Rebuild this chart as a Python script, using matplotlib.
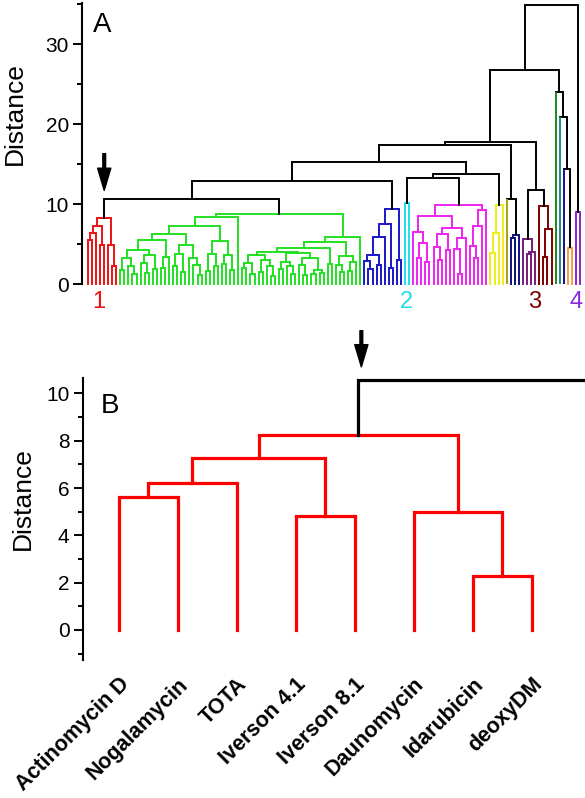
import matplotlib
matplotlib.use("Agg")
import matplotlib.pyplot as plt
from matplotlib.ticker import MultipleLocator

plt.rcParams['font.family'] = ['Liberation Sans', 'DejaVu Sans']

# ---------------- data: panel A ----------------
L = 0  # leaf marker; internal nodes are (distance, left, right)

red_tree = (8.2, (7.2, (6.4, (5.5, L, L), L), (4.9, L, L)), (4.9, L, (2.25, L, L)))
green_tree = (8.75,
              (8.4,
               (7.25,
                (6.3,
                 (5.5,
                  (4.25,
                   (3.2, (1.8, L, L), (2.2, L, (1.2, L, L))),
                   (3.6, (2.6, L, (1.4, L, L)), (1.9, L, L))),
                  (3.4, (2.0, L, L), L)),
                 (4.9,
                  (3.8, (2.2, L, L), (1.5, L, L)),
                  (3.3, L, (2.4, L, (1.1, L, L))))),
                (5.4,
                 (3.7, (1.6, L, L), (2.3, L, L)),
                 (3.6, (2.5, L, L), (1.7, L, L)))),
               L),
              (5.9,
               (5.3,
                (4.45,
                 (4.0,
                  (3.6, (2.6, (2.0, L, L), (1.2, L, L)),
                   (3.0, (1.5, L, L), (2.2, L, (1.0, L, L)))),
                  (3.9, (2.8, (1.9, L, L), (2.2, L, (1.3, L, L))),
                   (3.2, (2.4, L, (1.1, L, L)), (1.8, (1.2, L, L), (1.4, L, L))))),
                 (2.5, L, L)),
                (3.5, (2.4, L, (1.5, L, L)), (2.7, (1.6, L, L), L))),
               L))
blue_tree = (9.4, (7.5, (5.9, (3.6, (2.9, L, (1.9, L, L)), (2.4, L, L)), L), (2.0, L, L)), (3.0, L, L))
cyan_tree = (10.1, L, L)
magenta_tree = (9.9,
                (8.5,
                 (6.5, L, (5.1, (3.2, L, L), (2.8, L, L))),
                 (7.0, (6.3, (4.6, L, (3.0, L, L)), (4.2, L, L)),
                  (5.8, (4.4, L, (1.3, L, L)), L))),
                (9.25, (7.2, (4.7, L, (3.3, L, L)), L), L))
yellow_tree = (9.9, (6.4, (3.9, L, L), L), L)
olive_tree = L
navy_tree = (6.1, (5.75, L, L), L)
dpurple_tree = (5.6, L, (4.0, (3.7, L, L), L))
maroon_tree = (9.75, L, (6.9, (3.4, L, L), L))
dgreen_tree = L
teal_tree = L
navy1_tree = L
orange_tree = (4.5, L, L)
purple_tree = (9.0, L, L)

top_tree = (34.9,
            (26.75,
             (17.8,
              (17.4,
               (15.3,
                (12.9, (10.6, "red", "green"), "blue"),
                (13.75, (13.2, "cyan", "magenta"), "yellow")),
               (10.6, "olive", "navy")),
              (11.75, "dpurple", "maroon")),
             (24.0, "dgreen", (20.9, "teal", (14.4, "navy1", "orange")))),
            "purple")

clusters = {"red": red_tree, "green": green_tree, "blue": blue_tree, "cyan": cyan_tree,
            "magenta": magenta_tree, "yellow": yellow_tree, "olive": olive_tree,
            "navy": navy_tree, "dpurple": dpurple_tree, "maroon": maroon_tree,
            "dgreen": dgreen_tree, "teal": teal_tree, "navy1": navy1_tree,
            "orange": orange_tree, "purple": purple_tree}
colors = {"red": "#ee1111", "green": "#22e022", "blue": "#1818c8", "cyan": "#22dde6",
          "magenta": "#ee22ee", "yellow": "#eeee14", "olive": "#aaa010",
          "navy": "#101080", "dpurple": "#7a1a7a", "maroon": "#800000",
          "dgreen": "#1a8a1a", "teal": "#208888", "navy1": "#101090",
          "orange": "#f0a040", "purple": "#9022d0"}

cluster_labels = ["1", "2", "3", "4"]
cluster_label_colors = ["#ee1111", "#22dde6", "#800000", "#8a2be2"]
cluster_label_x = [2.8, 78.4, 109.9, 120.1]

# ---------------- data: panel B ----------------
drugs = ["Actinomycin D", "Nogalamycin", "TOTA", "Iverson 4.1", "Iverson 8.1",
         "Daunomycin", "Idarubicin", "deoxyDM"]
tree_b = (8.25, (7.25, (6.2, (5.6, L, L), L), (4.8, L, L)), (5.0, L, (2.3, L, L)))
link_b = 10.55


def draw(ax, node, color, counter, lw):
    if isinstance(node, str):
        return draw(ax, clusters[node], colors[node], counter, lw)
    if not isinstance(node, tuple):
        x = counter[0]
        counter[0] += 1
        return x, 0.0, True, color
    h, a, b = node
    xa, ha, la, ca = draw(ax, a, color, counter, lw)
    xb, hb, lb, cb = draw(ax, b, color, counter, lw)
    col_a = ca if la else color
    col_b = cb if lb else color
    kw = dict(lw=lw, clip_on=False, solid_joinstyle='miter')
    if col_a == color and col_b == color:
        ax.plot([xa, xa, xb, xb], [ha, h, h, hb], color=color, **kw)
    else:
        ax.plot([xa, xb], [h, h], color=color, solid_capstyle='projecting', **kw)
        ax.plot([xa, xa], [ha, h], color=col_a, solid_capstyle='butt', **kw)
        ax.plot([xb, xb], [hb, h], color=col_b, solid_capstyle='butt', **kw)
    return (xa + xb) / 2.0, h, False, color


def centre(node, counter):
    if not isinstance(node, tuple):
        x = counter[0]
        counter[0] += 1
        return x
    return (centre(node[1], counter) + centre(node[2], counter)) / 2.0


fig = plt.figure(figsize=(5.85, 7.98), dpi=100)
W, H = 585.0, 798.0

# ---------------- panel A ----------------
axA = fig.add_axes([82 / W, 1 - 284 / H, (W - 82) / W, (284 - 3.3) / H])
counter = [0]
draw(axA, top_tree, "black", counter, 1.4)
n = counter[0]
sp = (580 - 87.7) / (n - 1)
axA.set_xlim(-(87.7 - 82) / sp, (n - 1) + (W - 580) / sp)
axA.set_ylim(0, 35.1)
for s in ["top", "right", "bottom"]:
    axA.spines[s].set_visible(False)
axA.spines["left"].set_linewidth(1.5)
axA.set_xticks([])
axA.yaxis.set_major_locator(MultipleLocator(10))
axA.yaxis.set_minor_locator(MultipleLocator(5))
axA.tick_params(axis='y', which='major', length=6.5, width=1.4, labelsize=15, pad=3)
axA.tick_params(axis='y', which='minor', length=3.5, width=1.4)
axA.set_ylabel("Distance", fontsize=19)
axA.yaxis.set_label_coords(-0.11, 0.606)
axA.text(0.022, 0.97, "A", transform=axA.transAxes, ha='left', va='top', fontsize=20)
for lab, c, x in zip(cluster_labels, cluster_label_colors, cluster_label_x):
    axA.text(x, -2.3, lab, color=c, fontsize=17, ha='center', va='center', clip_on=False)

red_c = centre(red_tree, [0])
axA.annotate('', xy=(red_c, 11.7), xytext=(red_c, 16.3),
             arrowprops=dict(facecolor='black', edgecolor='black', width=2.0,
                             headwidth=9.5, headlength=16, shrink=0),
             annotation_clip=False)

# ---------------- panel B ----------------
axB = fig.add_axes([82.8 / W, 1 - 660 / H, (W - 82.8) / W, (660 - 378) / H])
cb_ = [0]
root_x, root_h, _, _ = draw(axB, tree_b, "#ff0000", cb_, 2.3)
nb = cb_[0]
xr = (nb - 1) + (W - 531.7) / 59.0
axB.set_xlim(-(118.7 - 82.8) / 59.0, xr)
axB.set_ylim(-1.27, 10.65)
axB.plot([root_x, root_x, xr], [root_h, link_b, link_b], color='black', lw=2.3,
         clip_on=False, solid_joinstyle='miter')
for s in ["top", "right", "bottom"]:
    axB.spines[s].set_visible(False)
axB.spines["left"].set_linewidth(1.5)
axB.yaxis.set_major_locator(MultipleLocator(2))
axB.yaxis.set_minor_locator(MultipleLocator(1))
axB.tick_params(axis='y', which='major', length=6.5, width=1.4, labelsize=15, pad=3)
axB.tick_params(axis='y', which='minor', length=3.5, width=1.4)
axB.set_xticks(range(nb))
axB.set_xticklabels(drugs, rotation=45, ha='right', rotation_mode='anchor',
                    fontsize=15.5, fontweight='bold')
axB.tick_params(axis='x', length=0, pad=10)
axB.set_ylabel("Distance", fontsize=19)
axB.yaxis.set_label_coords(-0.095, 0.574)
axB.text(0.036, 0.947, "B", transform=axB.transAxes, ha='left', va='top', fontsize=20)
axB.annotate('', xy=(root_x + 0.05, 11.12), xytext=(root_x + 0.05, 12.65),
             arrowprops=dict(facecolor='black', edgecolor='black', width=2.0,
                             headwidth=9.5, headlength=16, shrink=0),
             annotation_clip=False)

fig.savefig("out.png", dpi=100)
